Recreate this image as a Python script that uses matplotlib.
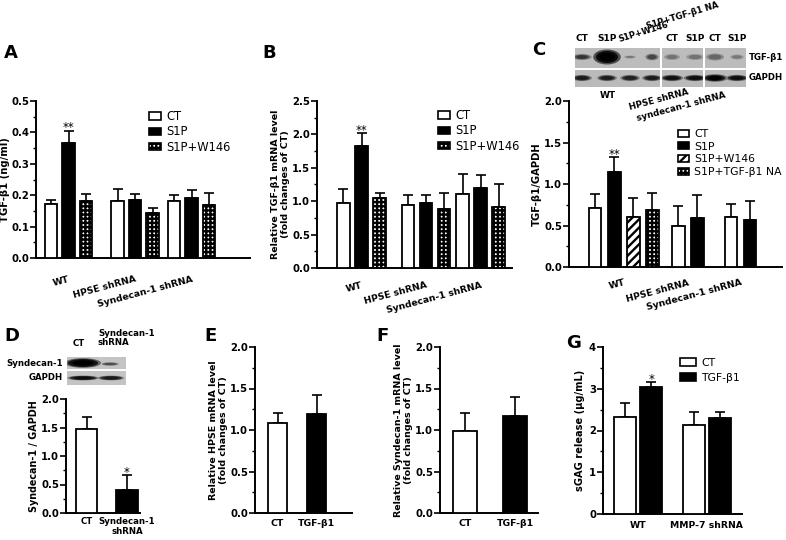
import matplotlib
matplotlib.use('Agg')
import matplotlib.pyplot as plt
from matplotlib.patches import Patch, Rectangle, Ellipse
from matplotlib.ticker import MultipleLocator, FormatStrFormatter
import numpy as np

W, H = 786, 540
plt.rcParams['font.family'] = ['DejaVu Sans']
plt.rcParams['hatch.linewidth'] = 1.7

# ---------------- data ----------------
groups_abc = ['WT', 'HPSE shRNA', 'Syndecan-1 shRNA']

# Panel A: TGF-b1 (ng/ml)
A_ct = [0.172, 0.180, 0.183]
A_ct_err = [0.013, 0.040, 0.017]
A_s1p = [0.366, 0.185, 0.192]
A_s1p_err = [0.039, 0.020, 0.026]
A_w146 = [0.180, 0.143, 0.170]
A_w146_err = [0.023, 0.015, 0.037]

# Panel B: relative TGF-b1 mRNA
B_ct = [0.98, 0.94, 1.11]
B_ct_err = [0.20, 0.16, 0.29]
B_s1p = [1.83, 0.98, 1.20]
B_s1p_err = [0.19, 0.12, 0.19]
B_w146 = [1.05, 0.88, 0.92]
B_w146_err = [0.08, 0.25, 0.34]

# Panel C: TGF-b1/GAPDH
C_ct = [0.71, 0.49, 0.60]
C_ct_err = [0.17, 0.25, 0.16]
C_s1p = [1.14, 0.59, 0.57]
C_s1p_err = [0.18, 0.28, 0.23]
C_w146 = [0.60]
C_w146_err = [0.23]
C_na = [0.69]
C_na_err = [0.20]

# Panel D
D_labels = ['CT', 'Syndecan-1\nshRNA']
D_vals = [1.48, 0.41]
D_err = [0.20, 0.25]

# Panel E / F
EF_labels = ['CT', 'TGF-β1']
E_vals = [1.08, 1.19]
E_err = [0.13, 0.23]
F_vals = [0.99, 1.17]
F_err = [0.21, 0.23]

# Panel G
G_groups = ['WT', 'MMP-7 shRNA']
G_ct = [2.32, 2.14]
G_ct_err = [0.33, 0.31]
G_tgf = [3.03, 2.31]
G_tgf_err = [0.12, 0.13]

# ---------------- helpers ----------------
fig = plt.figure(figsize=(W / 100, H / 100), dpi=100)

def add_ax(x0, y0, x1, y1):
    return fig.add_axes([x0 / W, 1 - y1 / H, (x1 - x0) / W, (y1 - y0) / H])

def fpt(x, y):
    return (x / W, 1 - y / H)

TFS = 7.3
CHECK = '++++'
DIAG = '////'

def style(ax, ymax, major, minor, fmt, xlim):
    ax.set_ylim(0, ymax)
    ax.set_xlim(*xlim)
    for s in ['top', 'right']:
        ax.spines[s].set_visible(False)
    for s in ['left', 'bottom']:
        ax.spines[s].set_linewidth(1.4)
    ax.yaxis.set_major_locator(MultipleLocator(major))
    ax.yaxis.set_minor_locator(MultipleLocator(minor))
    ax.yaxis.set_major_formatter(FormatStrFormatter(fmt))
    ax.tick_params(axis='y', which='major', length=4, width=1.2, labelsize=TFS, pad=1)
    ax.tick_params(axis='y', which='minor', length=2, width=1.0)
    ax.tick_params(axis='x', length=0, labelsize=TFS)
    for lbl in ax.get_yticklabels():
        lbl.set_fontweight('bold')

def bars(ax, x, h, e, fc, w, hatch=None):
    ax.bar(x, h, w, color=fc, edgecolor='black', linewidth=1.3, hatch=hatch, zorder=3)
    ax.errorbar(x, h, yerr=[np.zeros(len(h)), e], fmt='none', ecolor='black',
                elinewidth=1.2, capsize=3.5, capthick=1.2, zorder=2)

def star(ax, x, y, s):
    ax.annotate(s, (x, y), xytext=(0, -2.5), textcoords='offset points',
                ha='center', va='bottom', fontsize=8.5)

def legend(ax, handles, labels, x, y, fs=7.8, hl=1.0, hh=0.6, ls=0.25):
    ax.legend(handles, labels, loc='upper left', bbox_to_anchor=fpt(x, y),
              bbox_transform=fig.transFigure, frameon=False, borderpad=0,
              borderaxespad=0, handlelength=hl, handleheight=hh,
              handletextpad=0.5, labelspacing=ls, fontsize=fs)

def h_white():
    return Patch(facecolor='white', edgecolor='black', linewidth=1.2)

def h_black():
    return Patch(facecolor='black', edgecolor='black', linewidth=1.2)

def h_hatch(p):
    return Patch(facecolor='white', edgecolor='black', linewidth=1.2, hatch=p)

def rot_labels(ax, pos, labels, pad, fs=6.7):
    ax.set_xticks(pos)
    ax.set_xticklabels(labels, rotation=15, ha='right', rotation_mode='anchor',
                       fontweight='bold', fontsize=fs)
    ax.tick_params(axis='x', pad=pad)

def ylab(ax, s, fs, pad=1):
    ax.set_ylabel(s, fontsize=fs, fontweight='bold', labelpad=pad, linespacing=1.1)

def letter(x, y, s):
    fig.text(*fpt(x, y), s, fontsize=13, fontweight='bold', ha='left', va='center')

# ---------------- Panel A ----------------
axA = add_ax(36, 101, 250, 258)
posA = np.array([0, 1, 1.85])
offA, wA = 0.263, 0.19
bars(axA, posA - offA, A_ct, A_ct_err, 'white', wA)
bars(axA, posA, A_s1p, A_s1p_err, 'black', wA)
bars(axA, posA + offA, A_w146, A_w146_err, 'white', wA, CHECK)
style(axA, 0.5, 0.1, 0.05, '%.1f', (-0.49, 2.73))
rot_labels(axA, posA, groups_abc, 12)
ylab(axA, 'TGF-β1 (ng/ml)', 7.2, 0.5)
star(axA, posA[0], A_s1p[0] + A_s1p_err[0], '**')
legend(axA, [h_white(), h_black(), h_hatch(CHECK)], ['CT', 'S1P', 'S1P+W146'], 149, 110,
       fs=8.3, ls=0.2)
letter(4, 53, 'A')

# ---------------- Panel B ----------------
axB = add_ax(317, 101, 512, 268)
posB = np.array([0, 1, 1.845])
offB, wB = 0.28, 0.195
bars(axB, posB - offB, B_ct, B_ct_err, 'white', wB)
bars(axB, posB, B_s1p, B_s1p_err, 'black', wB)
bars(axB, posB + offB, B_w146, B_w146_err, 'white', wB, CHECK)
style(axB, 2.5, 0.5, 0.25, '%.1f', (-0.69, 2.33))
rot_labels(axB, posB, groups_abc, 9)
ylab(axB, 'Relative TGF-β1 mRNA level\n(fold changes of CT)', 6.8, 1.5)
star(axB, posB[0], B_s1p[0] + B_s1p_err[0], '**')
legend(axB, [h_white(), h_black(), h_hatch(CHECK)], ['CT', 'S1P', 'S1P+W146'], 438, 109,
       fs=8.3, ls=0.2)
letter(262, 53, 'B')

# ---------------- Panel C ----------------
axC = add_ax(569, 101, 782, 267)
posC = np.array([0, 1, 1.82])
stepC, wC = 0.297, 0.195
ct_x = posC + np.array([-1.5, -0.5, -0.5]) * stepC
s1p_x = posC + np.array([-0.5, 0.5, 0.5]) * stepC
bars(axC, ct_x, C_ct, C_ct_err, 'white', wC)
bars(axC, s1p_x, C_s1p, C_s1p_err, 'black', wC)
bars(axC, posC[:1] + 0.5 * stepC, C_w146, C_w146_err, 'white', wC, DIAG)
bars(axC, posC[:1] + 1.5 * stepC, C_na, C_na_err, 'white', wC, CHECK)
style(axC, 2.0, 0.5, 0.25, '%.1f', (-0.855, 2.47))
rot_labels(axC, posC, groups_abc, 8)
ylab(axC, 'TGF-β1/GAPDH', 7.2, 1.5)
star(axC, s1p_x[0], C_s1p[0] + C_s1p_err[0], '**')
legend(axC, [h_white(), h_black(), h_hatch(DIAG), h_hatch(CHECK)],
       ['CT', 'S1P', 'S1P+W146', 'S1P+TGF-β1 NA'], 678, 129)
letter(532, 50, 'C')

# blot C (western blot picture)
bC = add_ax(575, 48, 746, 87)
bC.set_xlim(575, 746)
bC.set_ylim(87, 48)
bC.axis('off')
bC.add_patch(Rectangle((575, 48), 171, 20, color='#bcbcbc', lw=0))
bC.add_patch(Rectangle((575, 70), 171, 17, color='#bababa', lw=0))
lanesC = [582, 607, 630, 652, 672, 695, 715, 737]
tgf_w = [16, 22, 12, 12, 16, 18, 18, 14]
tgf_h = [5, 12, 3, 6, 6, 6, 7, 5]
tgf_g = [0.35, 0.05, 0.62, 0.42, 0.6, 0.6, 0.55, 0.62]
gap_w = [16, 16, 16, 16, 18, 18, 20, 18]
gap_h = [5, 5, 5, 5, 5, 5, 6, 5]
gap_g = [0.2, 0.2, 0.22, 0.2, 0.15, 0.15, 0.1, 0.15]
for xc, w_, h_, g in zip(lanesC, tgf_w, tgf_h, tgf_g):
    for k, sc in enumerate([1.25, 1.0, 0.7]):
        gg = max(0, min(0.74, g + [0.25, 0.0, -0.15][k]))
        bC.add_patch(Ellipse((xc, 57), w_ * sc, h_ * sc, color=str(gg), lw=0))
for xc, w_, h_, g in zip(lanesC, gap_w, gap_h, gap_g):
    for k, sc in enumerate([1.25, 1.0, 0.7]):
        gg = max(0, min(0.74, g + [0.3, 0.0, -0.1][k]))
        bC.add_patch(Ellipse((xc, 78), w_ * sc, h_ * sc, color=str(gg), lw=0))
bC.add_patch(Rectangle((575, 68), 171, 2, color='white', lw=0))
for xs in [661, 704]:
    bC.add_patch(Rectangle((xs - 0.6, 48), 1.2, 39, color='white', lw=0))

BFS = 6.5
for xc, s in zip([582, 607, 672, 695, 715, 737], ['CT', 'S1P', 'CT', 'S1P', 'CT', 'S1P']):
    fig.text(*fpt(xc, 43), s, fontsize=BFS, fontweight='bold', ha='center', va='bottom')
fig.text(*fpt(620, 44), 'S1P+W146', fontsize=6.0, fontweight='bold', ha='left',
         va='bottom', rotation=17, rotation_mode='anchor')
fig.text(*fpt(648, 31), 'S1P+TGF-β1 NA', fontsize=6.0, fontweight='bold', ha='left',
         va='bottom', rotation=17, rotation_mode='anchor')
fig.text(*fpt(749, 58), 'TGF-β1', fontsize=6.2, fontweight='bold', ha='left', va='center')
fig.text(*fpt(749, 78), 'GAPDH', fontsize=6.2, fontweight='bold', ha='left', va='center')
fig.text(*fpt(608, 95), 'WT', fontsize=BFS, fontweight='bold', ha='center', va='center')
fig.text(*fpt(630, 110), 'HPSE shRNA', fontsize=6.3, fontweight='bold', ha='left',
         va='baseline', rotation=15, rotation_mode='anchor')
fig.text(*fpt(637, 121), 'syndecan-1 shRNA', fontsize=6.3, fontweight='bold', ha='left',
         va='baseline', rotation=15, rotation_mode='anchor')

# ---------------- Panel D ----------------
axD = add_ax(66, 399, 140, 513)
posD = np.array([0, 1])
bars(axD, posD[:1], D_vals[:1], D_err[:1], 'white', 0.52)
bars(axD, posD[1:], D_vals[1:], D_err[1:], 'black', 0.52)
style(axD, 2.0, 0.5, 0.25, '%.1f', (-0.506, 1.32))
axD.set_xticks(posD)
axD.set_xticklabels(D_labels, fontweight='bold', linespacing=1.05, fontsize=6.2)
axD.tick_params(axis='x', pad=3)
ylab(axD, 'Syndecan-1 / GAPDH', 6.9, 1.5)
star(axD, posD[1], D_vals[1] + D_err[1], '*')
letter(4, 336, 'D')

bD = add_ax(67, 357, 126, 385)
bD.set_xlim(67, 126)
bD.set_ylim(385, 357)
bD.axis('off')
bD.add_patch(Rectangle((67, 357), 59, 12, color='#c4c4c4', lw=0))
bD.add_patch(Rectangle((67, 371), 59, 14, color='#c4c4c4', lw=0))
for (xc, yc, w_, h_, g) in [(83, 363, 30, 8, 0.08), (110, 364, 16, 3, 0.4),
                            (83, 378, 26, 4, 0.15), (111, 378, 22, 4, 0.2)]:
    for k, sc in enumerate([1.2, 1.0, 0.7]):
        gg = max(0, min(0.76, g + [0.3, 0.0, -0.1][k]))
        bD.add_patch(Ellipse((xc, yc), w_ * sc, h_ * sc, color=str(gg), lw=0))
fig.text(*fpt(63, 363), 'Syndecan-1', fontsize=6.2, fontweight='bold', ha='right', va='center')
fig.text(*fpt(63, 378), 'GAPDH', fontsize=6.2, fontweight='bold', ha='right', va='center')
fig.text(*fpt(79, 344), 'CT', fontsize=6.2, fontweight='bold', ha='center', va='center')
fig.text(*fpt(98, 338), 'Syndecan-1\nshRNA', fontsize=6.2, fontweight='bold', ha='left',
         va='center', linespacing=1.1)

# ---------------- Panel E ----------------
axE = add_ax(255, 347, 352, 513)
posE = np.array([0, 1])
bars(axE, posE[:1], E_vals[:1], E_err[:1], 'white', 0.51)
bars(axE, posE[1:], E_vals[1:], E_err[1:], 'black', 0.51)
style(axE, 2.0, 0.5, 0.25, '%.1f', (-0.577, 1.91))
axE.set_xticks(posE)
axE.set_xticklabels(EF_labels, fontweight='bold', fontsize=6.7)
axE.tick_params(axis='x', pad=4)
ylab(axE, 'Relative HPSE mRNA level\n(fold changes of CT)', 6.8, 1.5)
letter(204, 336, 'E')

# ---------------- Panel F ----------------
axF = add_ax(440, 347, 538, 513)
posF = np.array([0, 1])
bars(axF, posF[:1], F_vals[:1], F_err[:1], 'white', 0.48)
bars(axF, posF[1:], F_vals[1:], F_err[1:], 'black', 0.48)
style(axF, 2.0, 0.5, 0.25, '%.1f', (-0.5, 1.46))
axF.set_xticks(posF)
axF.set_xticklabels(EF_labels, fontweight='bold', fontsize=6.7)
axF.tick_params(axis='x', pad=4)
ylab(axF, 'Relative Syndecan-1 mRNA level\n(fold changes of CT)', 6.8, 1.5)
letter(376, 336, 'F')

# ---------------- Panel G ----------------
axG = add_ax(603, 347, 742, 514)
posG = np.array([0, 1])
offG, wG = 0.19, 0.32
bars(axG, posG - offG, G_ct, G_ct_err, 'white', wG)
bars(axG, posG + offG, G_tgf, G_tgf_err, 'black', wG)
style(axG, 4, 1, 0.5, '%d', (-0.51, 1.51))
axG.set_xticks(posG)
axG.set_xticklabels(G_groups, fontweight='bold', fontsize=6.7)
axG.tick_params(axis='x', pad=5)
ylab(axG, 'sGAG release (μg/mL)', 7.1, 3)
star(axG, posG[0] + offG, G_tgf[0] + G_tgf_err[0], '*')
legend(axG, [h_white(), h_black()], ['CT', 'TGF-β1'], 680, 358, hl=1.45, hh=0.75, ls=0.45)
letter(566, 343, 'G')

fig.savefig('out.png', dpi=100)
